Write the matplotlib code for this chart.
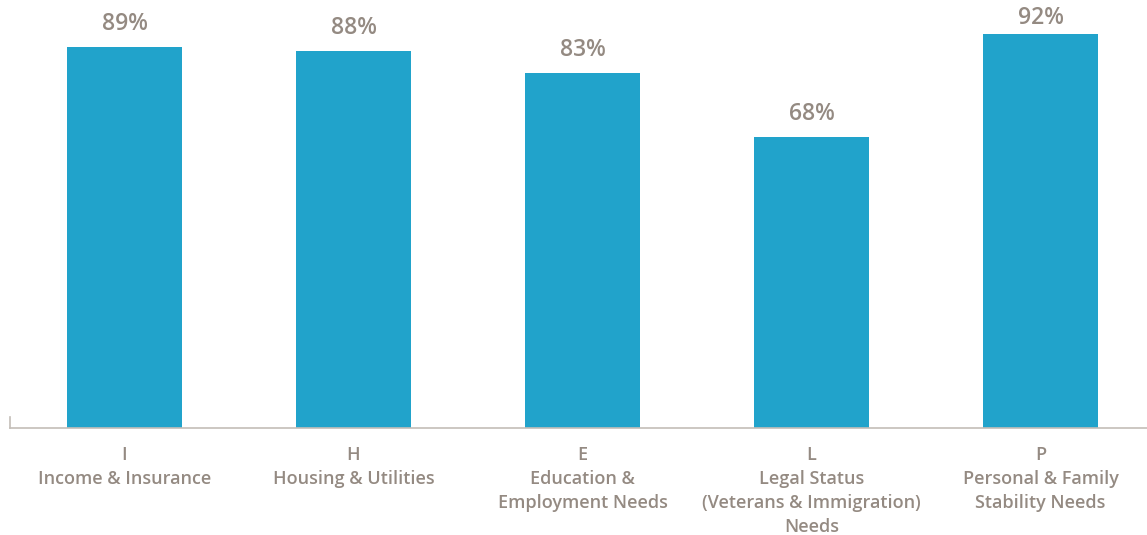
import matplotlib
matplotlib.use("Agg")
import matplotlib.pyplot as plt

letters = ["I", "H", "E", "L", "P"]
categories = ["Income & Insurance", "Housing & Utilities", "Education &\nEmployment Needs",
              "Legal Status\n(Veterans & Immigration)\nNeeds", "Personal & Family\nStability Needs"]
values = [89, 88, 83, 68, 92]

bar_color = "#21a3cb"
text_color = "#948a82"
axis_color = "#c4beb8"

plt.rcParams['font.family'] = ['Open Sans', 'DejaVu Sans']

W, H, DPI = 1147, 535, 100
fig = plt.figure(figsize=(W / DPI, H / DPI), dpi=DPI)
ax = fig.add_axes([10 / W, 0.2, 1 - 10 / W, 0.8])

x = list(range(len(values)))
ax.bar(x, values, width=0.502, color=bar_color)

ax.set_xlim(-0.5, 4.465)
ax.set_ylim(0, 100)

# value labels: ~25px above bar top, but kept at least ~15px below figure top
for xi, v in zip(x, values):
    bar_top_px = ax.transData.transform((xi, v))[1]
    center_px = min(bar_top_px + 26, H - 15)
    ax.annotate(f"{v}%", (xi, v), xytext=(0, (center_px - bar_top_px) * 72 / DPI),
                textcoords="offset points", ha="center", va="center_baseline",
                fontsize=16.5, color=text_color, fontweight="semibold")

ax.set_yticks([])
ax.set_xticks(x)
ax.set_xticklabels([f"{l}\n{c}" for l, c in zip(letters, categories)], fontsize=13,
                   color=text_color, fontweight="semibold", linespacing=1.42, va="top")
ax.tick_params(axis="x", length=0, pad=13)
for s in ["top", "right"]:
    ax.spines[s].set_visible(False)
ax.spines["bottom"].set_color(axis_color)
ax.spines["left"].set_color(axis_color)
ax.spines["bottom"].set_linewidth(1.2)
ax.spines["left"].set_linewidth(1.2)
ax.spines["left"].set_bounds(0, 2.5)

fig.savefig("out.png", dpi=DPI)
